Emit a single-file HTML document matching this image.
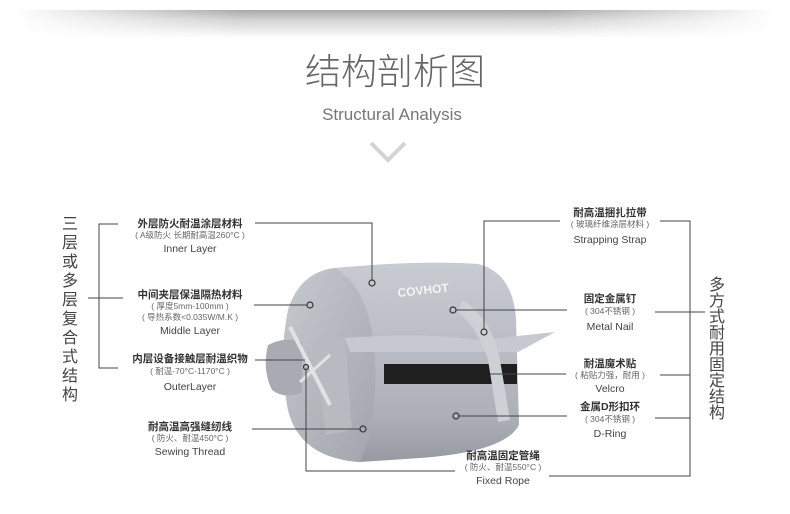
<!DOCTYPE html>
<html><head><meta charset="utf-8"><style>
html,body{margin:0;padding:0;background:#fff;}
svg{display:block;}
.cn{font-family:"Liberation Sans","Noto Sans CJK SC",sans-serif;}
.b{font-weight:bold;font-size:10.5px;fill:#333;}
.s{font-size:8.5px;fill:#666;}
.e{font-size:10.5px;fill:#444;}
.v{font-size:16px;fill:#444;}
</style></head><body>
<svg width="790" height="514" viewBox="0 0 790 514" xmlns="http://www.w3.org/2000/svg" class="cn">
<defs>
<linearGradient id="sh" x1="0" y1="0" x2="0" y2="1">
<stop offset="0" stop-color="#a8a8a8"/><stop offset="0.35" stop-color="#d2d2d2"/><stop offset="1" stop-color="#fff"/>
</linearGradient>
<linearGradient id="fade" x1="0" y1="0" x2="1" y2="0">
<stop offset="0" stop-color="#fff" stop-opacity="1"/><stop offset="0.3" stop-color="#fff" stop-opacity="0"/>
<stop offset="0.7" stop-color="#fff" stop-opacity="0"/><stop offset="1" stop-color="#fff" stop-opacity="1"/>
</linearGradient>
<linearGradient id="body" x1="0" y1="0" x2="0" y2="1">
<stop offset="0" stop-color="#c8cbd2"/><stop offset="0.35" stop-color="#bcbfc7"/><stop offset="0.75" stop-color="#aeb1b9"/><stop offset="1" stop-color="#979aa2"/>
</linearGradient>
<linearGradient id="face" x1="0" y1="0" x2="1" y2="1">
<stop offset="0" stop-color="#c6c9cf"/><stop offset="1" stop-color="#a2a5ad"/>
</linearGradient>
</defs>
<rect x="15" y="10" width="760" height="28" fill="url(#sh)"/>
<rect x="15" y="10" width="760" height="28" fill="url(#fade)"/>
<text x="395" y="84" text-anchor="middle" font-size="36" fill="#666" font-weight="300">结构剖析图</text>
<text x="392" y="120" text-anchor="middle" font-size="17" fill="#777">Structural Analysis</text>
<polyline points="371,143 388,160 405,143" fill="none" stroke="#d4d4d4" stroke-width="4"/>

<!-- product -->
<path d="M335,268 Q420,260 478,264 Q512,272 516,318 L519,425 Q505,452 420,458 L360,462 Q300,458 288,410 Q278,360 288,310 Q300,272 335,268Z" fill="url(#body)"/>
<path d="M335,268 Q300,272 288,310 Q278,360 288,410 Q300,458 360,462 Q378,420 375,360 Q372,290 335,268Z" fill="url(#face)"/>
<path d="M268,345 Q285,336 302,342 L302,392 Q285,400 272,390 Q262,370 268,345Z" fill="#a8abb2"/>
<path d="M345,338 Q420,332 480,340 L555,332 L518,352 L350,352Z" fill="#c6c9cf"/>
<rect x="384" y="364" width="133" height="20" fill="#1f1f1f"/>
<path d="M462,300 Q492,318 500,360 L510,420 L498,422 L488,360 Q478,328 458,312Z" fill="#cdd0d5"/>
<path d="M312,343 L345,337 L352,430 L326,435Z" fill="#b7bac1"/>
<line x1="290" y1="327" x2="330" y2="405" stroke="#e2e2e2" stroke-width="4"/>
<line x1="300" y1="382" x2="330" y2="355" stroke="#e2e2e2" stroke-width="3"/>
<text x="398" y="297" font-size="12" fill="#f4f4f4" font-weight="bold" transform="rotate(-6 398 297)">COVHOT</text>

<!-- lines -->
<g fill="none" stroke="#444" stroke-width="1">
<polyline points="118,224 99,224 99,368 118,368"/>
<line x1="88" y1="298" x2="123" y2="298"/>
<polyline points="255,223 372,223 372,280"/>
<line x1="254" y1="305" x2="307" y2="305"/>
<line x1="255" y1="360" x2="305" y2="360"/>
<line x1="252" y1="429" x2="360" y2="429"/>
<polyline points="306,370 306,471 455,471"/>
<polyline points="549,476 690,476 690,221 660,221"/>
<polyline points="560,221 484,221 484,329"/>
<line x1="456" y1="310" x2="567" y2="310"/>
<line x1="655" y1="312" x2="705" y2="312"/>
<line x1="490" y1="374" x2="566" y2="374"/>
<line x1="660" y1="375" x2="690" y2="375"/>
<line x1="459" y1="416" x2="567" y2="416"/>
<line x1="655" y1="418" x2="690" y2="418"/>
</g>
<g fill="none" stroke="#333" stroke-width="1.2">
<circle cx="372" cy="283" r="3"/><circle cx="310" cy="305" r="3"/><circle cx="363" cy="429" r="3"/>
<circle cx="484" cy="332" r="3"/><circle cx="453" cy="310" r="3"/><circle cx="456" cy="416" r="3"/>
<circle cx="306" cy="367" r="2.5"/>
</g>

<!-- vertical texts -->
<g class="v" text-anchor="middle">
<text x="70" y="229">三</text><text x="70" y="248">层</text><text x="70" y="267">或</text><text x="70" y="286">多</text><text x="70" y="305">层</text><text x="70" y="324">复</text><text x="70" y="343">合</text><text x="70" y="362">式</text><text x="70" y="381">结</text><text x="70" y="400">构</text>
</g>
<g class="v" text-anchor="middle">
<text x="717" y="290">多</text><text x="717" y="306">方</text><text x="717" y="322">式</text><text x="717" y="338">耐</text><text x="717" y="354">用</text><text x="717" y="370">固</text><text x="717" y="386">定</text><text x="717" y="402">结</text><text x="717" y="418">构</text>
</g>

<!-- left labels -->
<g text-anchor="middle">
<text x="190" y="227" class="b">外层防火耐温涂层材料</text>
<text x="190" y="238" class="s">( A级防火 长期耐高温260°C )</text>
<text x="190" y="252" class="e">Inner Layer</text>
<text x="190" y="298" class="b">中间夹层保温隔热材料</text>
<text x="190" y="309" class="s">( 厚度5mm-100mm )</text>
<text x="190" y="320" class="s">( 导热系数&lt;0.035W/M.K )</text>
<text x="190" y="334" class="e">Middle Layer</text>
<text x="190" y="362" class="b">内层设备接触层耐温织物</text>
<text x="190" y="374" class="s">( 耐温-70°C-1170°C )</text>
<text x="190" y="390" class="e">OuterLayer</text>
<text x="190" y="430" class="b">耐高温高强缝纫线</text>
<text x="190" y="441" class="s">( 防火、耐温450°C )</text>
<text x="190" y="455" class="e">Sewing Thread</text>
</g>
<!-- right labels -->
<g text-anchor="middle">
<text x="610" y="216" class="b">耐高温捆扎拉带</text>
<text x="610" y="227" class="s">( 玻璃纤维涂层材料 )</text>
<text x="610" y="243" class="e">Strapping Strap</text>
<text x="610" y="302" class="b">固定金属钉</text>
<text x="610" y="314" class="s">( 304不锈钢 )</text>
<text x="610" y="330" class="e">Metal Nail</text>
<text x="610" y="367" class="b">耐温魔术贴</text>
<text x="610" y="378" class="s">( 粘贴力强，耐用 )</text>
<text x="610" y="392" class="e">Velcro</text>
<text x="610" y="410" class="b">金属D形扣环</text>
<text x="610" y="422" class="s">( 304不锈钢 )</text>
<text x="610" y="437" class="e">D-Ring</text>
<text x="503" y="459" class="b">耐高温固定管绳</text>
<text x="503" y="470" class="s">( 防火、耐温550°C )</text>
<text x="503" y="484" class="e">Fixed Rope</text>
</g>
</svg>
</body></html>
